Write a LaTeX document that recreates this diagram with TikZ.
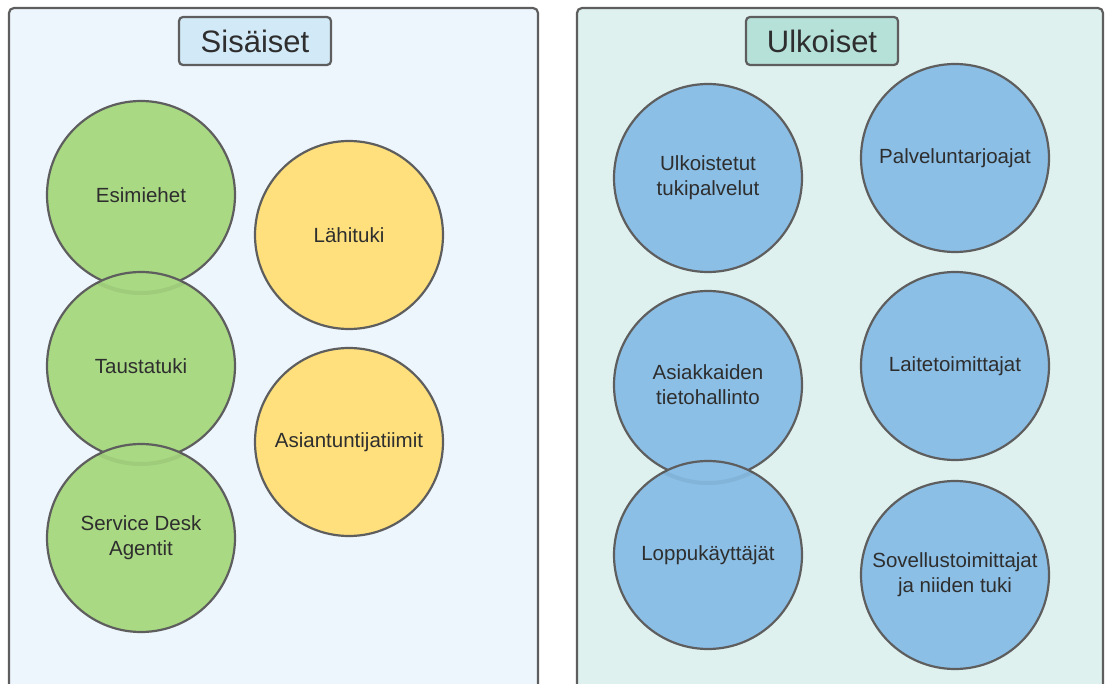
\documentclass[tikz,border=0pt]{standalone}
\usepackage{fontspec}
\setmainfont{Liberation Sans}
\begin{document}
\begin{tikzpicture}[x=1pt,y=-1pt,
  panel/.style={draw=bordergray,line width=2.2pt,rounded corners=5pt},
  titlebox/.style={draw=bordergray,line width=2.2pt,rounded corners=4pt,minimum width=152pt,minimum height=48pt,inner sep=0pt,font=\fontsize{31}{35}\selectfont,text=textgray},
  bubble/.style={circle,draw=bordergray,line width=2.2pt,minimum size=188pt,inner sep=0pt,align=center,font=\fontsize{20.5}{25}\selectfont,text=textgray},
  green/.style={bubble,fill=greenfill},
  yellow/.style={bubble,fill=yellowfill},
  blue/.style={bubble,fill=bluefill},
  shade/.style={line width=4pt,draw=black,draw opacity=0.06}
]
\definecolor{bordergray}{HTML}{5E5E5E}
\definecolor{textgray}{HTML}{2E2E2E}
\definecolor{greenfill}{HTML}{A9D983}
\definecolor{yellowfill}{HTML}{FFE07C}
\definecolor{bluefill}{HTML}{8BBFE6}
\definecolor{leftbg}{HTML}{EDF5FD}
\definecolor{rightbg}{HTML}{DFF1EF}
\definecolor{lefttitle}{HTML}{D2E9F7}
\definecolor{righttitle}{HTML}{B5E1D9}
\useasboundingbox (0,0) rectangle (1106,684);
\clip (0,0) rectangle (1106,684);
\fill[white] (0,0) rectangle (1106,684);
% panels
\draw[panel,fill=leftbg] (9,8) rectangle (538,720);
\draw[panel,fill=rightbg] (577,8) rectangle (1103,720);
\node[titlebox,fill=lefttitle] (tleft) at (255,41) {Sisäiset};
\node[titlebox,fill=righttitle] (tright) at (822,41) {Ulkoiset};
% left circles
\node[green] (esim) at (141,195) {Esimiehet};
\node[green] (taus) at (141,366) {Taustatuki};
\begin{scope}
  \clip (taus.center) circle (94pt);
  \draw[shade] ([yshift=-4pt]esim.center) ++(-30:94pt) arc[start angle=-30,end angle=-150,radius=94pt];
\end{scope}
\node[green] (serv) at (141,538) {Service Desk\\Agentit};
\begin{scope}
  \clip (serv.center) circle (94pt);
  \draw[shade] ([yshift=-4pt]taus.center) ++(-30:94pt) arc[start angle=-30,end angle=-150,radius=94pt];
\end{scope}
\node[yellow] (lahi) at (349,235) {Lähituki};
\node[yellow] (asian) at (349,442) {Asiantuntijatiimit};
% right circles
\node[blue] (ulko) at (708,178) {Ulkoistetut\\tukipalvelut};
\node[blue] (palv) at (955,158) {Palveluntarjoajat};
\node[blue] (asiak) at (708,385) {Asiakkaiden\\tietohallinto};
\node[blue] (lopp) at (708,555) {Loppukäyttäjät};
\begin{scope}
  \clip (lopp.center) circle (94pt);
  \draw[shade] ([yshift=-4pt]asiak.center) ++(-30:94pt) arc[start angle=-30,end angle=-150,radius=94pt];
\end{scope}
\node[blue] (lait) at (955,366) {Laitetoimittajat};
\node[blue] (sove) at (955,575) {Sovellustoimittajat\\ja niiden tuki};
\end{tikzpicture}
\end{document}
